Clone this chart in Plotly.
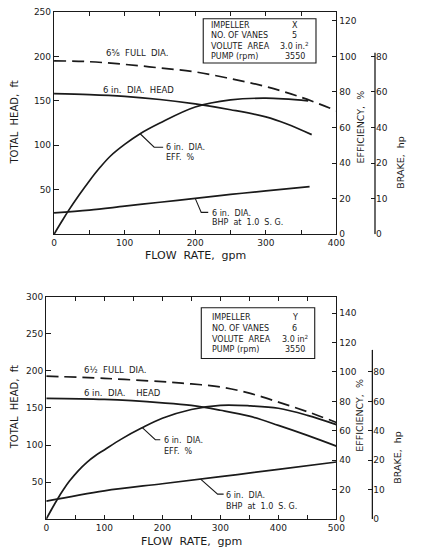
import numpy as np
import plotly.graph_objects as go

# ---------------- data ----------------
# Top chart (impeller X)
top_full_q = [0, 50, 100, 150, 200, 250, 300, 350, 400]
top_full_h = [195, 194, 191, 187, 182.5, 175, 166, 154, 139]
top_head_q = [0, 50, 100, 150, 200, 250, 300, 330, 365]
top_head_h = [158, 157, 155, 151.5, 146.5, 140, 132, 124, 112]
top_eff_q = [0, 10, 20, 35, 50, 65, 80, 100, 122, 150, 200, 250, 300, 360]
top_eff_v = [0, 6.6, 13, 21.8, 30, 37.5, 44, 50.5, 56.5, 62.5, 71.5, 75.5, 76.5, 75]
top_bhp_q = [0, 50, 100, 150, 200, 250, 300, 362]
top_bhp_v = [6, 6.8, 7.9, 9, 10.1, 11.2, 12.2, 13.4]

# Bottom chart (impeller Y)
bot_full_q = [0, 100, 200, 250, 300, 350, 400, 450, 500]
bot_full_h = [193, 190, 185.5, 182.5, 178.5, 170, 158, 145, 130.5]
bot_head_q = [0, 100, 200, 250, 300, 350, 400, 450, 500]
bot_head_h = [163, 161.5, 157, 153.5, 147, 139, 126.5, 113, 98.5]
bot_eff_q = [0, 10, 20, 30, 40, 55, 70, 85, 100, 130, 165, 200, 250, 300, 350, 400, 450, 500]
bot_eff_v = [0, 7.2, 14, 20.2, 25.8, 32.8, 38.6, 43.2, 47, 54.5, 62, 68.5, 74.5, 77.3, 77, 75.3, 70.5, 64.2]
bot_bhp_q = [0, 100, 200, 300, 400, 500]
bot_bhp_v = [6.1, 9.6, 12, 14.4, 16.9, 19.4]

# tick labels
top_x_ticks = [0, 100, 200, 300, 400]
top_x_minor = [50, 150, 250, 350]
bot_x_ticks = [0, 100, 200, 300, 400, 500]
bot_x_minor = [50, 150, 250, 350, 450]
top_head_ticks = [50, 100, 150, 200, 250]
bot_head_ticks = [50, 100, 150, 200, 250, 300]
top_eff_ticks = [0, 20, 40, 60, 80, 100, 120]
bot_eff_ticks = [0, 20, 40, 60, 80, 100, 120, 140]
brake_ticks = [0, 10, 20, 30, 40, 50]
brake_text = ["0", "10", "20", "40", "60", "80"]

top_box_labels = ["IMPELLER", "NO. OF VANES", "VOLUTE  AREA", "PUMP (rpm)"]
top_box_values = ["X", "5", "3.0 in.<sup>2</sup>", "3550"]
bot_box_labels = ["IMPELLER", "NO. OF VANES", "VOLUTE  AREA", "PUMP (rpm)"]
bot_box_values = ["Y", "6", "3.0 in<sup>2</sup>", "3550"]

# ---------------- layout geometry ----------------
W, H = 429, 554
FONT = "DejaVu Sans"
INK = "#1a1a1a"


def px(xp):
    return xp / W


def py(yp):
    return 1 - yp / H


fig = go.Figure()
LW = 1.7
dash = "12px,6px"

# top traces
fig.add_trace(go.Scatter(x=top_full_q, y=top_full_h, mode="lines", line=dict(color=INK, width=LW, dash=dash, shape="spline"), xaxis="x", yaxis="y"))
fig.add_trace(go.Scatter(x=top_head_q, y=top_head_h, mode="lines", line=dict(color=INK, width=LW, shape="spline"), xaxis="x", yaxis="y"))
fig.add_trace(go.Scatter(x=top_eff_q, y=top_eff_v, mode="lines", line=dict(color=INK, width=LW, shape="spline"), xaxis="x", yaxis="y2"))
fig.add_trace(go.Scatter(x=top_bhp_q, y=top_bhp_v, mode="lines", line=dict(color=INK, width=LW, shape="spline"), xaxis="x", yaxis="y3"))
# bottom traces
fig.add_trace(go.Scatter(x=bot_full_q, y=bot_full_h, mode="lines", line=dict(color=INK, width=LW, dash=dash, shape="spline"), xaxis="x2", yaxis="y4"))
fig.add_trace(go.Scatter(x=bot_head_q, y=bot_head_h, mode="lines", line=dict(color=INK, width=LW, shape="spline"), xaxis="x2", yaxis="y4"))
fig.add_trace(go.Scatter(x=bot_eff_q, y=bot_eff_v, mode="lines", line=dict(color=INK, width=LW, shape="spline"), xaxis="x2", yaxis="y5"))
fig.add_trace(go.Scatter(x=bot_bhp_q, y=bot_bhp_v, mode="lines", line=dict(color=INK, width=LW, shape="spline"), xaxis="x2", yaxis="y6"))

tickfont = dict(family=FONT, size=9, color=INK)
common_axis = dict(showgrid=False, zeroline=False, showline=True, linecolor=INK, linewidth=1.3,
                   ticks="inside", ticklen=4, tickcolor=INK, tickwidth=1.2, tickfont=tickfont)
minor_style = dict(ticks="inside", ticklen=4, tickcolor=INK, tickwidth=1.2, showgrid=False)

top_dom_y = [py(233.5), py(7)]
bot_dom_y = [py(523.5), py(297.3)]

fig.update_layout(
    width=W, height=H,
    margin=dict(l=0, r=0, t=0, b=0),
    paper_bgcolor="white", plot_bgcolor="white",
    showlegend=False,
    xaxis=dict(common_axis, domain=[px(52.5), px(343)], range=[0, 400], anchor="y",
               tickmode="array", tickvals=top_x_ticks, mirror="ticks",
               minor=dict(minor_style, tickmode="array", tickvals=top_x_minor)),
    yaxis=dict(common_axis, domain=top_dom_y, range=[0, 250], anchor="x",
               tickmode="array", tickvals=top_head_ticks, ticklen=5),
    yaxis2=dict(common_axis, overlaying="y", side="right", anchor="x", range=[0, 125],
                tickmode="array", tickvals=top_eff_ticks),
    yaxis3=dict(common_axis, overlaying="y", side="right", anchor="free", position=px(382.7),
                range=[0, 62.5], tickmode="array", tickvals=brake_ticks, ticktext=brake_text, showline=False),
    xaxis2=dict(common_axis, domain=[px(44.5), px(343)], range=[0, 500], anchor="y4",
                tickmode="array", tickvals=bot_x_ticks, mirror="ticks",
                minor=dict(minor_style, tickmode="array", tickvals=bot_x_minor)),
    yaxis4=dict(common_axis, domain=bot_dom_y, range=[0, 300], anchor="x2",
                tickmode="array", tickvals=bot_head_ticks, ticklen=5),
    yaxis5=dict(common_axis, overlaying="y4", side="right", anchor="x2", range=[0, 151],
                tickmode="array", tickvals=bot_eff_ticks),
    yaxis6=dict(common_axis, overlaying="y4", side="right", anchor="free", position=px(380),
                range=[0, 75.5], tickmode="array", tickvals=brake_ticks, ticktext=brake_text, showline=False),
)

# brake axis spines (partial height)
fig.add_shape(type="line", xref="paper", yref="y3", x0=px(382.7), x1=px(382.7), y0=0, y1=51,
              line=dict(color=INK, width=1.3))
fig.add_shape(type="line", xref="paper", yref="y6", x0=px(380), x1=px(380), y0=0, y1=57.5,
              line=dict(color=INK, width=1.3))

ann = []


def text_at(xp, yp, text, size=9, xanchor="center", angle=0):
    ann.append(dict(x=px(xp), y=py(yp), xref="paper", yref="paper", text=text, showarrow=False,
                    xanchor=xanchor, yanchor="middle", textangle=angle,
                    font=dict(family=FONT, size=size, color=INK), align="left"))


# axis titles
text_at(198, 255, "FLOW  RATE,  gpm", size=11)
text_at(194, 546, "FLOW  RATE,  gpm", size=11)
text_at(12, 120, "TOTAL  HEAD,  ft", size=10, angle=-90)
text_at(12, 410, "TOTAL  HEAD,  ft", size=10, angle=-90)
text_at(368, 124, "EFFICIENCY,  %", size=9.5, angle=-90)
text_at(366.5, 418, "EFFICIENCY,  %", size=9.5, angle=-90)
text_at(409, 160, "BRAKE,  hp", size=9.5, angle=-90)
text_at(406.5, 461, "BRAKE,  hp", size=9.5, angle=-90)

# curve labels
text_at(138, 49, "6⅝  FULL  DIA.", size=8.5)
text_at(139, 87, "6 in.  DIA.  HEAD", size=8.5)
text_at(115, 372, "6½  FULL  DIA.", size=8.5)
text_at(123, 395, "6 in.  DIA.    HEAD", size=8.5)
text_at(166, 145, "6 in.  DIA.", size=8, xanchor="left")
text_at(166, 155.5, "EFF.  %", size=8, xanchor="left")
text_at(213, 212, "6 in.  DIA.", size=8, xanchor="left")
text_at(213, 222, "BHP  at  1.0  S. G.", size=8, xanchor="left")
text_at(163.5, 443.5, "6 in.  DIA.", size=8, xanchor="left")
text_at(163.5, 454.5, "EFF.  %", size=8, xanchor="left")
text_at(227, 500, "6 in.  DIA.", size=8, xanchor="left")
text_at(227, 510.5, "BHP  at  1.0  S. G.", size=8, xanchor="left")


def leader(q, qs, vs, xref, yref, dx, dy, hx):
    """Leader line anchored on the curve at flow q: diagonal (dx, dy) px then horizontal hx px."""
    yv = float(np.interp(q, qs, vs))
    path = f"M0,0 L{dx},{-dy} L{dx + hx},{-dy}"
    fig.add_shape(type="path", xref=xref, yref=yref, xsizemode="pixel", ysizemode="pixel",
                  xanchor=q, yanchor=yv, path=path, line=dict(color=INK, width=1.1))


leader(122, top_eff_q, top_eff_v, "x", "y2", 14, 13.5, 9)
leader(200, top_bhp_q, top_bhp_v, "x", "y3", 6, 14, 7)
leader(165.5, bot_eff_q, bot_eff_v, "x2", "y5", 13, 12, 5)
leader(266, bot_bhp_q, bot_bhp_v, "x2", "y6", 17, 15, 6)

# info boxes
fig.add_shape(type="rect", xref="paper", yref="paper", x0=px(206), x1=px(322), y0=py(59), y1=py(14),
              line=dict(color=INK, width=1.1), fillcolor="white", layer="above")
fig.add_shape(type="rect", xref="paper", yref="paper", x0=px(204), x1=px(320.7), y0=py(360), y1=py(308.3),
              line=dict(color=INK, width=1.1), fillcolor="white", layer="above")
for i, (lab, val) in enumerate(zip(top_box_labels, top_box_values)):
    yy = 20.5 + i * 10.7
    text_at(211.5, yy, lab, size=8, xanchor="left")
    text_at(300, yy, val, size=8)
for i, (lab, val) in enumerate(zip(bot_box_labels, bot_box_values)):
    yy = 318.5 + i * 10.9
    text_at(212.5, yy, lab, size=8, xanchor="left")
    text_at(300, yy, val, size=8)

fig.update_layout(annotations=ann)
fig.write_html("out.html")
